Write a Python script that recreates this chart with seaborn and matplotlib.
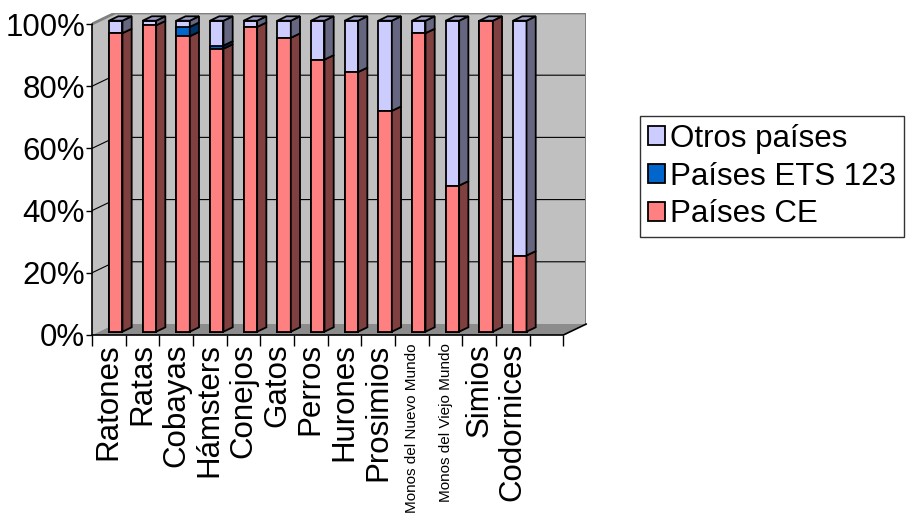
import numpy as np
import pandas as pd
import matplotlib
matplotlib.use("Agg")
import matplotlib.pyplot as plt
from matplotlib.patches import Polygon, Patch
import seaborn as sns

# Origin of laboratory animals, share by group of countries (%)
categories = ["Ratones", "Ratas", "Cobayas", "Hámsters", "Conejos", "Gatos", "Perros",
              "Hurones", "Prosimios", "Monos del Nuevo Mundo", "Monos del Viejo Mundo",
              "Simios", "Codornices"]
paises_ce = [96, 98.5, 95, 91, 98, 94.5, 87.5, 83.5, 71, 96, 47, 100, 24.5]
paises_ets = [0, 0, 3, 1, 0, 0, 0, 0, 0, 0, 0, 0, 0]
otros_paises = [4, 1.5, 2, 8, 2, 5.5, 12.5, 16.5, 29, 4, 53, 0, 75.5]
series_names = ["Otros países", "Países ETS 123", "Países CE"]
y_ticks = [0, 20, 40, 60, 80, 100]
small_labels = {"Monos del Nuevo Mundo", "Monos del Viejo Mundo"}

face = {"Otros países": "#CCCCFF", "Países ETS 123": "#0066CC", "Países CE": "#FF8080"}
side = {"Otros países": "#666680", "Países ETS 123": "#003366", "Países CE": "#804040"}
top_color = "#9C9CC0"

sns.set_style("white")
plt.rcParams["font.family"] = ["Liberation Sans", "DejaVu Sans"]
for key in ["text.color", "axes.labelcolor", "xtick.color", "ytick.color"]:
    plt.rcParams[key] = "black"

# pseudo-3D geometry (x in category slots, y in percent)
DX, DY = 0.683, 3.54          # full depth of the chart box
BAR_W = 0.4
BAR_POS = 0.3                 # bar front face depth within the box
BAR_D = 0.4                   # bar depth
fx, fy = -BAR_POS * DX, -BAR_POS * DY
bx, by = (1 - BAR_POS) * DX, (1 - BAR_POS) * DY
bdx, bdy = BAR_D * DX, BAR_D * DY
n_slots = len(categories) + 1
x0, x1 = -0.5, n_slots - 0.5

fig = plt.figure(figsize=(9.06, 5.17), dpi=100)
ax = fig.add_axes([92 / 906, (517 - 335) / 517, (14 + DX) * 33.67 / 906, (100 + DY) * 3.11 / 517])

# walls and floor
wall_kw = dict(closed=True, zorder=0, linewidth=0)
ax.add_patch(Polygon([(x0 + bx, by), (x1 + bx, by), (x1 + bx, 100 + by), (x0 + bx, 100 + by)],
                     facecolor="#C0C0C0", **wall_kw))
ax.add_patch(Polygon([(x0 + fx, fy), (x0 + bx, by), (x0 + bx, 100 + by), (x0 + fx, 100 + fy)],
                     facecolor="#C0C0C0", **wall_kw))
ax.add_patch(Polygon([(x0 + fx, fy), (x1 + fx, fy), (x1 + bx, by), (x0 + bx, by)],
                     facecolor="#8C8C8C", **wall_kw))
for v in y_ticks[1:-1]:
    ax.plot([x0 + fx, x0 + bx, x1 + bx], [v + fy, v + by, v + by], color="black", lw=0.8, zorder=0.5)
ax.plot([x0 + fx, x0 + bx, x1 + bx, x1 + bx], [100 + fy, 100 + by, 100 + by, by],
        color="#808080", lw=2, zorder=0.5)

# front faces: cumulative stacks overlaid
ce = np.array(paises_ce, float)
ets = np.array(paises_ets, float)
ot = np.array(otros_paises, float)
cum = {"Otros países": ce + ets + ot, "Países ETS 123": ce + ets, "Países CE": ce}
df = pd.DataFrame({
    "animal": np.tile(categories, 3),
    "serie": np.repeat(series_names, len(categories)),
    "valor": np.concatenate([cum[s] for s in series_names]),
})
sns.barplot(data=df, x="animal", y="valor", hue="serie", hue_order=series_names,
            order=categories, palette=face, saturation=1, dodge=False, width=BAR_W,
            errorbar=None, edgecolor="black", linewidth=1.3, legend=False, ax=ax, zorder=2)

# side and top faces
bottoms = {"Países CE": np.zeros_like(ce), "Países ETS 123": ce, "Otros países": ce + ets}
for i in range(len(categories)):
    xr = i + BAR_W / 2
    for s in ["Países CE", "Países ETS 123", "Otros países"]:
        y0, y1 = bottoms[s][i], cum[s][i]
        if y1 - y0 <= 0:
            continue
        ax.add_patch(Polygon([(xr, y0), (xr + bdx, y0 + bdy), (xr + bdx, y1 + bdy), (xr, y1)],
                             closed=True, facecolor=side[s], edgecolor="black", lw=1.3, zorder=2))
    yt = cum["Otros países"][i]
    xl = i - BAR_W / 2
    ax.add_patch(Polygon([(xl, yt), (xr, yt), (xr + bdx, yt + bdy), (xl + bdx, yt + bdy)],
                         closed=True, facecolor=top_color, edgecolor="black", lw=1.3, zorder=2))

# axes lines
ax.plot([x0 + fx, x0 + fx], [fy, 100 + fy], color="black", lw=1.2, zorder=3, clip_on=False)
ax.plot([x0 + fx, x1 + fx, x1 + bx], [fy, fy, by], color="black", lw=1.2, zorder=3, clip_on=False)

ax.set_xlim(x0 + fx, x1 + bx)
ax.set_ylim(fy, 100 + by)
for sp in ax.spines.values():
    sp.set_visible(False)

ax.set_yticks([v + fy for v in y_ticks], [f"{v}%" for v in y_ticks])
ax.tick_params(axis="y", length=4, width=1, direction="out", left=True, pad=1, labelsize=22.5)
ax.set_xticks([i + fx for i in range(len(categories))])
ax.set_xticklabels(categories, rotation=90)
ax.set_xticks([x0 + k + fx for k in range(n_slots + 1)], minor=True)
ax.tick_params(axis="x", which="major", length=0, pad=6, labelsize=22.5, bottom=True)
ax.tick_params(axis="x", which="minor", length=8, width=1, direction="out", bottom=True)
for lbl in ax.get_xticklabels():
    if lbl.get_text() in small_labels:
        lbl.set_fontsize(11)
ax.set_xlabel("")
ax.set_ylabel("")

handles = [Patch(facecolor=face[s], edgecolor="black", lw=1.3) for s in series_names]
leg = fig.legend(handles, series_names, loc="upper left",
                 bbox_to_anchor=(640 / 906, 1 - 116 / 517), frameon=True, fancybox=False,
                 edgecolor="black", fontsize=22.5, handlelength=0.55, handleheight=0.55,
                 handletextpad=0.15, labelspacing=0.25, borderpad=0.25, borderaxespad=0)
leg.get_frame().set_linewidth(1.0)

fig.savefig("out.png", dpi=100, facecolor="white")
